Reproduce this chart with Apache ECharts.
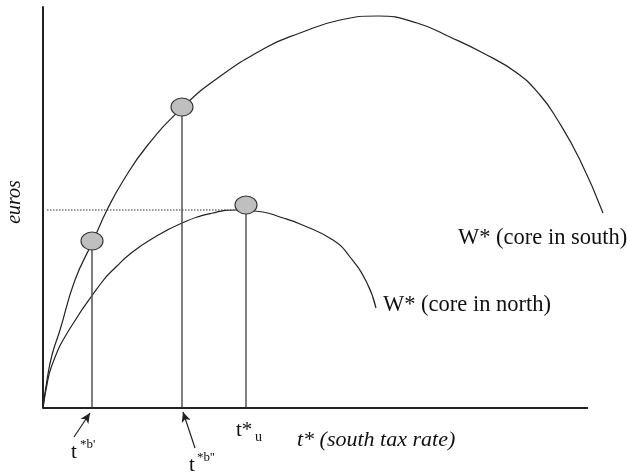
<!DOCTYPE html>
<html>
<head>
<meta charset="utf-8">
<script src="https://cdn.jsdelivr.net/npm/echarts@6/dist/echarts.min.js"></script>
<style>
  html, body { margin: 0; padding: 0; background: #fff; }
  #chart { width: 627px; height: 474px; }
</style>
</head>
<body>
<div id="chart"></div>
<script>
// welfare curve, core in south (x = tax rate, y = euros; arbitrary units)
const southX = [0, 4, 9, 17, 32, 50, 64, 80, 104, 139, 172, 224, 257, 297, 335, 374, 407, 440, 474, 497, 514, 537, 560]
const southY = [0, 28, 53, 78, 128, 167, 198, 227, 262, 300, 328, 361, 375, 388, 392, 385, 371, 355, 335, 313, 289, 248, 195]
// welfare curve, core in north
const northX = [0, 3, 9, 26, 59, 74, 87, 107, 139, 170, 194, 220, 237, 257, 290, 307, 324, 333]
const northY = [0, 18, 43, 78, 126, 142, 154, 168, 185, 195, 198, 196, 191, 184, 168, 151, 125, 100]
// marked tax rates t*b', t*b'', t*u and the welfare at each
const markT = [49, 139, 203]
const markW = [167, 301, 203]
const dottedLevel = 198
const dottedRange = [4, 192]
const axisEnd = 545
// little arrows under the axis: [tailX, tailY, headX, headY]
const arrowLines = [[31, -29, 47, -5], [152, -40, 140, -4]]

const font = 'Liberation Serif'
const ink = '#222'

let chart = echarts.init(document.getElementById('chart'))

let series = [
  {
    type: 'line',
    data: southX.map((x, i) => [x, southY[i]]),
    smooth: 0.5,
    showSymbol: false,
    clip: false,
    lineStyle: { color: ink, width: 1.2 }
  },
  {
    type: 'line',
    data: northX.map((x, i) => [x, northY[i]]),
    smooth: 0.5,
    showSymbol: false,
    clip: false,
    lineStyle: { color: ink, width: 1.2 }
  },
  {
    type: 'line',
    data: [[dottedRange[0], dottedLevel], [dottedRange[1], dottedLevel]],
    showSymbol: false,
    lineStyle: { color: '#333', width: 1, type: [1.5, 1.5] }
  },
  {
    // horizontal axis (stops short of the plotting area)
    type: 'line',
    data: [[0, 0], [axisEnd, 0]],
    showSymbol: false,
    clip: false,
    z: 5,
    lineStyle: { color: ink, width: 2 }
  }
]

// vertical drop lines
markT.forEach((x, i) => {
  series.push({
    type: 'line',
    data: [[x, 0], [x, markW[i]]],
    showSymbol: false,
    lineStyle: { color: '#555', width: 1.5 }
  })
})

series.push({
  type: 'scatter',
  data: markT.map((x, i) => [x, markW[i]]),
  symbol: 'circle',
  symbolSize: [22, 18],
  z: 10,
  itemStyle: { color: '#bfbfbf', borderColor: '#333', borderWidth: 1, opacity: 1 }
})

function txt (x, y, text, size, extra) {
  return {
    type: 'text',
    x: x,
    y: y,
    style: Object.assign({
      text: text,
      fill: '#111',
      font: size + 'px "' + font + '"',
      align: 'left',
      verticalAlign: 'middle',
      textAlign: 'left',
      textVerticalAlign: 'middle'
    }, extra || {})
  }
}

let option = {
  animation: false,
  backgroundColor: '#fff',
  grid: { left: 43, right: 14, top: 7, bottom: 66 },
  xAxis: {
    type: 'value',
    min: 0,
    max: 570,
    axisLine: { show: false },
    axisTick: { show: false },
    axisLabel: { show: false },
    splitLine: { show: false }
  },
  yAxis: {
    type: 'value',
    min: 0,
    max: 401,
    axisLine: { show: true, lineStyle: { color: ink, width: 2 } },
    axisTick: { show: false },
    axisLabel: { show: false },
    splitLine: { show: false }
  },
  graphic: [
    txt(458, 238, 'W* (core in south)', 22.5),
    txt(383, 305, 'W* (core in north)', 22.5),
    txt(297, 440, 't* (south tax rate)', 22, { font: 'italic 22px "' + font + '"' }),
    Object.assign(txt(15, 202, 'euros', 18, { font: 'italic 20px "' + font + '"', align: 'center', textAlign: 'center' }), { rotation: Math.PI / 2 }),
    txt(71, 452, 't', 21),
    txt(80, 445, "*b'", 13),
    txt(189, 465, 't', 21),
    txt(197, 458, "*b''", 13),
    txt(236, 430, 't*', 21),
    txt(255, 437, 'u', 14)
  ],
  series: series
}

chart.setOption(option)

// arrows sit below the axis, so place them in pixels converted from data units
let arrowData = arrowLines.map(a => {
  let p0 = chart.convertToPixel({ gridIndex: 0 }, [a[0], a[1]])
  let p1 = chart.convertToPixel({ gridIndex: 0 }, [a[2], a[3]])
  return [{ x: p0[0], y: p0[1] }, { x: p1[0], y: p1[1] }]
})
chart.setOption({
  series: [{
    id: 'arrows',
    type: 'line',
    data: [],
    markLine: {
      silent: true,
      symbol: ['none', 'arrow'],
      symbolSize: [7, 10],
      label: { show: false },
      lineStyle: { color: ink, width: 1.2, type: 'solid' },
      data: arrowData
    }
  }]
})
</script>
</body>
</html>
